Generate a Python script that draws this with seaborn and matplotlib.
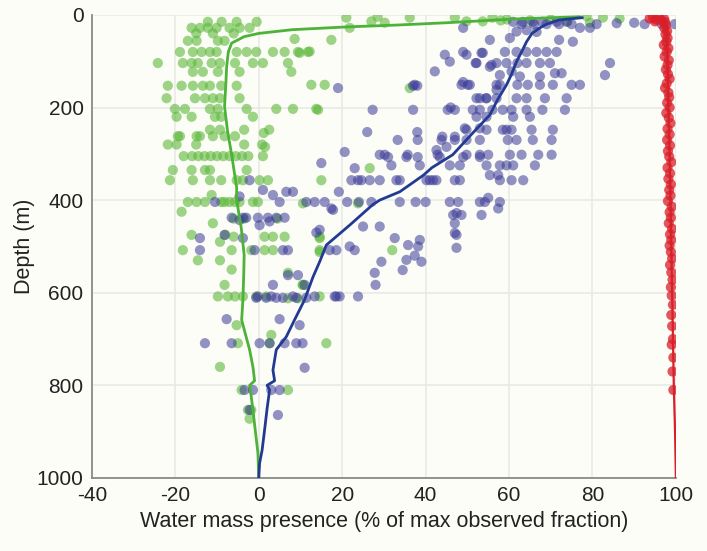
import matplotlib
matplotlib.use("Agg")
import matplotlib.pyplot as plt
import seaborn as sns
import pandas as pd

# ---------------- data ----------------
green_x = [21, 27, 28.5, 30.2, 36.2, 47, 49.8, 53.7, 56, 58, 59.5, 78.6, 82.5, 86.5, 79.4, 65, 70, 74,
           21.8, 17.4, 12.2, 9.8, 12.6, 15.8, 14.2, 36.2, 26.6, 15, 10.6, 23.8, 14.6, 14.6, 32, 10.6,
           -12.2, -8.9, -5.3, -0.5,
           -16.1, -14.1, -12.2, -10.1, -7.0, -4.6, -2.2,
           -15, -11, -6,
           -17, -14.9, -9.8, -8.2, 8.6,
           -18.9, -15.8, -13.7, -11.7, -10.1, -5.3, -2.9, -0.6, 3.4, 6.2, 9.4, 11.8,
           -24.2, -18.2, -16.1, -14.6, -11.3, -9.3, -5.7, -1.4, 1.0, 7.0,
           -15.8, -13.4, -9.8, -4.6, 7.8,
           -21.8, -18.5, -15.8, -13.4, -11.7, -9.0, -5.3,
           -22.1, -15.3, -12.9, -11, -9.3, -4.6,
           -20.1, -17.7, -11.7, -9.8, -2.9, 4.2, 8.2, 13.8,
           -19.7, -16.1, -10.5, -9.0, -1.4,
           -11.7, -9.3, -3.5, 2.5, 1.2,
           -19.4, -18.9, -14.9, -14.1, -11, -8.2, -5.7,
           -21.8, -19.7, -15, -3.5, 0.8, 1.5,
           -18, -16, -14.5, -13, -11.5, -10, -8.5, -7, -5.5, -4, -2.5, 1,
           -20.6, -16.1, -12.9, -11.7, -2.9,
           -21.3, -15.8, -11.7, -9, -5.3, -3.8, 0.2, 2.2,
           -11.3,
           -17, -14.9, -12.9, -9, -8.2, -7, -5.7, -4.6, -1.4, -0.2,
           -18.5, -6, -3.5, 4.5, -11, -16.1, -8, -9.3,
           -18.2, -6.5, -1.8, 1.4, 3.4, 14.6,
           -6, 1.4, 3.4, 6.2, 14.6,
           -14.6, -9.3, -6.5, 7, -8.2, 10.5,
           -9.8, -7.4, -5.7, -3.8, -0.6, 1.8, 7, 9.4, 14.6,
           -5.3, 3, -5, 2.6, 16.2, -9.3, -4.1, 7, -2.6, -1.8, -2.2]
green_depth = [6, 14, 4, 17, 6, 6, 14, 14, 6, 12, 10, 3, 6, 8, 17, 12, 10, 14,
               28, 54, 79, 82, 151, 151, 205, 158, 331, 357, 407, 407, 482, 512, 508, 583,
               15, 15, 15, 15,
               28, 28, 28, 28, 28, 28, 28,
               40, 40, 40,
               56, 56, 56, 56, 52,
               80, 80, 80, 80, 80, 80, 80, 80, 80, 80, 80, 80,
               104, 104, 104, 104, 104, 104, 104, 104, 104, 104,
               123, 123, 123, 123, 123,
               153, 153, 153, 153, 153, 153, 153,
               180, 180, 180, 180, 180, 180,
               203, 203, 203, 203, 203, 203, 203, 203,
               220, 220, 220, 220, 220,
               248, 248, 248, 248, 255,
               262, 262, 262, 262, 262, 262, 262,
               280, 280, 280, 280, 280, 285,
               305, 305, 305, 305, 305, 305, 305, 305, 305, 305, 305, 305,
               335, 335, 335, 335, 335,
               357, 357, 357, 357, 357, 357, 357, 357,
               389,
               404, 404, 404, 404, 404, 404, 404, 404, 404, 404,
               425, 440, 440, 440, 450, 475, 475, 490,
               508, 508, 508, 508, 508, 508,
               479, 479, 479, 479, 479,
               530, 530, 550, 557, 583, 583,
               608, 608, 608, 608, 608, 608, 612, 612, 608,
               670, 691, 709, 709, 709, 760, 810, 810, 853, 853, 872]

blue_x = [61, 63.3, 65.7, 68, 71.4, 73.8, 63, 66, 69, 72, 75, 81, 85.8, 90, 92.5, 96.6, 99.7,
          49, 77, 79.4, 61.8, 60.2, 55.4, 72, 64.2, 66.6, 75.3,
          44.6, 49, 49.8, 53.7, 59, 61.8, 64.2, 66.6, 69, 71.4, 53.4,
          52.2, 57, 59.4, 62, 64.2, 67.4, 69.8, 45.8, 52, 84.2, 55.8,
          42.2, 55.4, 57.8, 60.6, 62.6, 67.4, 71, 72.6, 83,
          49, 50.6, 37.4, 48.6, 50.1, 57, 57.8, 62, 64.5, 67.4, 70.5, 75, 77, 19, 37, 38, 57,
          52.2, 54.6, 57, 61.8, 64.2, 68.6, 73.8, 53, 54.5,
          37, 45.3, 47, 51.3, 53, 58.5, 60.6, 64.2, 68, 73.4, 27.3, 46, 56,
          52.2, 54.6, 61, 65,
          49.8, 54.6, 58.5, 59.4, 60.6, 65.4, 70.5, 26, 38, 49.4, 53,
          33.3, 38.1, 43.8, 47, 49.8, 53, 59.7, 61.8, 65.7, 70.2, 44, 47,
          45, 42.6, 20.6,
          30.2, 29, 35.7, 42.9, 49.8, 53, 55, 60.2, 63, 67, 70.2, 31, 35.4, 38.1, 43.4, 49, 53,
          15, 23, 31.8, 38.6, 45.8, 48.2, 54.6, 57.8, 59.4, 61, 66.2,
          22.2, 23.8, 24.6, 26.6, 29, 33, 41, 42.6, 48.2, 55.4, 57.4, 33.8, 40.2, 41.8, 47,
          57.8, 60.6, 63.4, -2.2,
          1, 3.4, 6.6, 8.2, 19.2, -4.6,
          -10.5, 5, 11.4, 13.4, 15.8, 21.2, 24, 27, 33.8, 37.6, 40, 45.8, 47.8, 53, 54.2, 57.8,
          17.4, 17.8, 57.4, 55, 47.4, 46.6, 48.6, 53.4,
          -6.5, -3.8, -3.0, -0.2, 2.2, 4.2, 6.2, -4.6, 0.2, 2.6, 25, 29, 14.6, 47, 47,
          13.8, 47.4, -14.1, -8.2, -3.8, 32.6, 38.6, 35.8,
          18.6, 17, 23, 21.8, 38.2, 47.4, -14.1, -1.0, 5.8, 7.0,
          37.4, 29.4, 35.4, 39, 34.5, 27.8, 7, 9.4,
          28, 3.4, 11,
          13.4, 18.6, 19.4, 23.8, -0.6, 1.8, 4.2, 5.8, 9, 11.4, 3, 8.2, 18.2, -0.2,
          -7.7, 5, 9.8,
          -12.9, -6.5, 0.2, 2.6, 6.2, 9, 10.5,
          11, -3.4, -1.4, 3, 5, -2.2, 4.6]
blue_depth = [15, 15, 15, 15, 15, 15, 20, 20, 20, 20, 20, 20, 18, 17, 20, 20, 20,
              28, 28, 28, 36, 50, 54, 54, 33, 37, 58,
              86, 80, 86, 82, 80, 80, 80, 80, 80, 80, 82,
              104, 104, 104, 104, 104, 104, 104, 101, 104, 104, 108,
              122, 112, 130, 122, 133, 133, 126, 126, 130,
              145, 151, 151, 151, 151, 151, 151, 151, 151, 151, 151, 151, 151, 158, 153, 153, 162,
              180, 180, 180, 180, 180, 180, 180, 180, 180,
              205, 205, 205, 205, 205, 205, 205, 205, 205, 205, 205, 200, 205,
              220, 220, 220, 220,
              248, 248, 248, 248, 248, 248, 248, 253, 253, 245, 245,
              270, 270, 270, 270, 270, 270, 270, 270, 270, 270, 263, 263,
              285, 292, 296,
              302, 302, 302, 302, 302, 302, 302, 302, 302, 302, 302, 307, 307, 307, 307, 307, 307,
              320, 331, 325, 325, 325, 325, 325, 325, 325, 325, 325,
              357, 357, 357, 357, 357, 357, 357, 357, 357, 346, 346, 357, 357, 357, 357,
              357, 357, 357, 357,
              378, 389, 382, 382, 382, 392,
              404, 404, 404, 404, 404, 404, 404, 404, 404, 404, 404, 404, 404, 404, 404, 404,
              418, 421, 418, 395, 428, 432, 432, 432,
              438, 438, 438, 438, 438, 438, 438, 443, 454, 446, 457, 457, 464, 450, 471,
              470, 475, 482, 475, 482, 482, 486, 497,
              508, 508, 508, 500, 500, 503, 508, 508, 508, 508,
              520, 533, 529, 533, 551, 557, 562, 562,
              583, 583, 583,
              608, 608, 608, 608, 611, 611, 611, 611, 611, 611, 608, 608, 608, 608,
              657, 657, 670,
              709, 709, 709, 709, 709, 709, 709,
              762, 810, 810, 810, 810, 853, 864]

red_x = [93.7, 94.5, 95.3, 96.0, 96.6, 97.2, 95.0, 97.4, 97.6, 97.2, 97.9, 97.5, 98.0, 97.7, 97.1,
         98.2, 97.8, 97.3, 98.3, 98.0, 97.6, 98.1, 98.5, 97.8, 97.4, 98.2, 98.4, 97.9, 98.5, 97.7,
         98.3, 98.7, 98.0, 98.5, 97.9, 98.6, 98.1, 98.4, 98.9, 98.0, 98.6, 98.2, 98.8, 98.4, 98.7,
         98.1, 99.0, 98.5, 98.8, 98.3, 99.1, 98.6, 98.9, 98.5, 98.8, 99.1, 98.6, 98.9, 99.2, 98.8,
         99.0, 99.3, 98.9, 99.1, 99.3, 99.0, 99.4, 99.2, 99.4]
red_depth = [8, 6, 10, 7, 12, 9, 14, 16, 22, 28, 35, 42, 50, 58, 65,
             72, 80, 90, 98, 108, 118, 128, 138, 148, 158, 168, 178, 190, 200, 212,
             222, 234, 246, 258, 270, 282, 294, 306, 318, 330, 342, 354, 366, 378, 390,
             402, 414, 426, 438, 450, 462, 474, 486, 498, 512, 526, 540, 556, 572, 588,
             606, 626, 648, 672, 700, 712, 740, 770, 810]

green_line_x = [77, 61, 45, 33, 21, 8, 4, 0, -3.5, -6.5, -7.3, -7.7, -7.9, -8.2, -7.5, -6.5, -5.3,
                -5.3, -4.2, -3.5, -3.6, -3.8, -4.1, -2.2, -1.4, -1.0, -2.2, -2.0, -1.4, -0.8, -0.2, 0]
green_line_depth = [4, 9, 17, 22, 26, 32, 36, 40, 47, 61, 80, 112, 150, 198, 250, 302, 373,
                    400, 460, 518, 560, 615, 659, 723, 760, 790, 800, 810, 853, 900, 946, 1000]

blue_line_x = [77.6, 72, 69, 67.4, 65.5, 64.2, 63, 61.8, 60.5, 59.4, 57.2, 55.4, 51.3, 46.5, 41.5,
               39.5, 33.8, 29, 27.3, 21.8, 16.2, 14.6, 13, 11.4, 11, 8.5, 6.6, 4.2, 3.4, 3.8, 2.0,
               2.6, 2.0, 1.4, 0.8, 0.2, 0]
blue_line_depth = [6, 11, 20, 28, 40, 58, 80, 101, 130, 151, 184, 216, 255, 302, 330,
                   346, 382, 400, 410, 454, 497, 533, 566, 605, 615, 660, 695, 723, 767, 790, 800,
                   810, 850, 896, 940, 968, 1000]

red_line_x = [94.5, 97.5, 97.8, 98.0, 98.2, 98.5, 98.7, 98.9, 99.1, 99.3, 99.5, 99.8, 100]
red_line_depth = [8, 15, 30, 100, 200, 300, 400, 500, 600, 700, 800, 900, 1000]

x_ticks = [-40, -20, 0, 20, 40, 60, 80, 100]
y_ticks = [0, 200, 400, 600, 800, 1000]

# ---------------- style ----------------
sns.set_theme(style="white")
plt.rcParams["font.family"] = ["Liberation Sans", "DejaVu Sans"]
bg = "#fdfdf7"

fig = plt.figure(figsize=(7.07, 5.51), dpi=100, facecolor=bg)
ax = fig.add_axes([0.130, 0.1325, 0.826, 0.8405])
ax.set_facecolor(bg)

g_df = pd.DataFrame({"x": green_x, "depth": green_depth})
b_df = pd.DataFrame({"x": blue_x, "depth": blue_depth})
r_df = pd.DataFrame({"x": red_x, "depth": red_depth})

ms = 54
sns.scatterplot(data=g_df, x="x", y="depth", ax=ax, color="#5cb83a", alpha=0.6,
                s=ms, edgecolor="none", linewidth=0, zorder=3)
sns.scatterplot(data=b_df, x="x", y="depth", ax=ax, color="#3a3a98", alpha=0.55,
                s=ms, edgecolor="none", linewidth=0, zorder=3)
sns.scatterplot(data=r_df, x="x", y="depth", ax=ax, color="#d81f2a", alpha=0.75,
                s=ms, edgecolor="none", linewidth=0, zorder=3)

sns.lineplot(x=green_line_x, y=green_line_depth, ax=ax, sort=False, estimator=None,
             color="#4cb238", linewidth=2.0, zorder=4)
sns.lineplot(x=blue_line_x, y=blue_line_depth, ax=ax, sort=False, estimator=None,
             color="#223a92", linewidth=2.0, zorder=4)
sns.lineplot(x=red_line_x, y=red_line_depth, ax=ax, sort=False, estimator=None,
             color="#d81f2a", linewidth=1.6, zorder=4)

ax.set_xlim(-40, 100)
ax.set_ylim(1000, 0)
ax.set_xticks(x_ticks)
ax.set_yticks(y_ticks)
ax.set_xticklabels([str(v) for v in x_ticks])
ax.set_yticklabels([str(v) for v in y_ticks])

ax.grid(True, color="#e9e9e6", linewidth=1.2, zorder=0)
ax.set_axisbelow(True)
for side in ["top", "right"]:
    ax.spines[side].set_visible(False)
for side in ["left", "bottom"]:
    ax.spines[side].set_color("#8a8a8a")
    ax.spines[side].set_linewidth(1.3)

ax.tick_params(axis="both", direction="in", length=4, width=1.0, color="#8a8a8a",
               labelsize=15, labelcolor="#222222", pad=6)
ax.set_xlabel("Water mass presence (% of max observed fraction)", fontsize=15.5,
              color="#222222", labelpad=4)
ax.set_ylabel("Depth (m)", fontsize=15.5, color="#222222", labelpad=1)

fig.savefig("out.png", dpi=100, facecolor=bg)
